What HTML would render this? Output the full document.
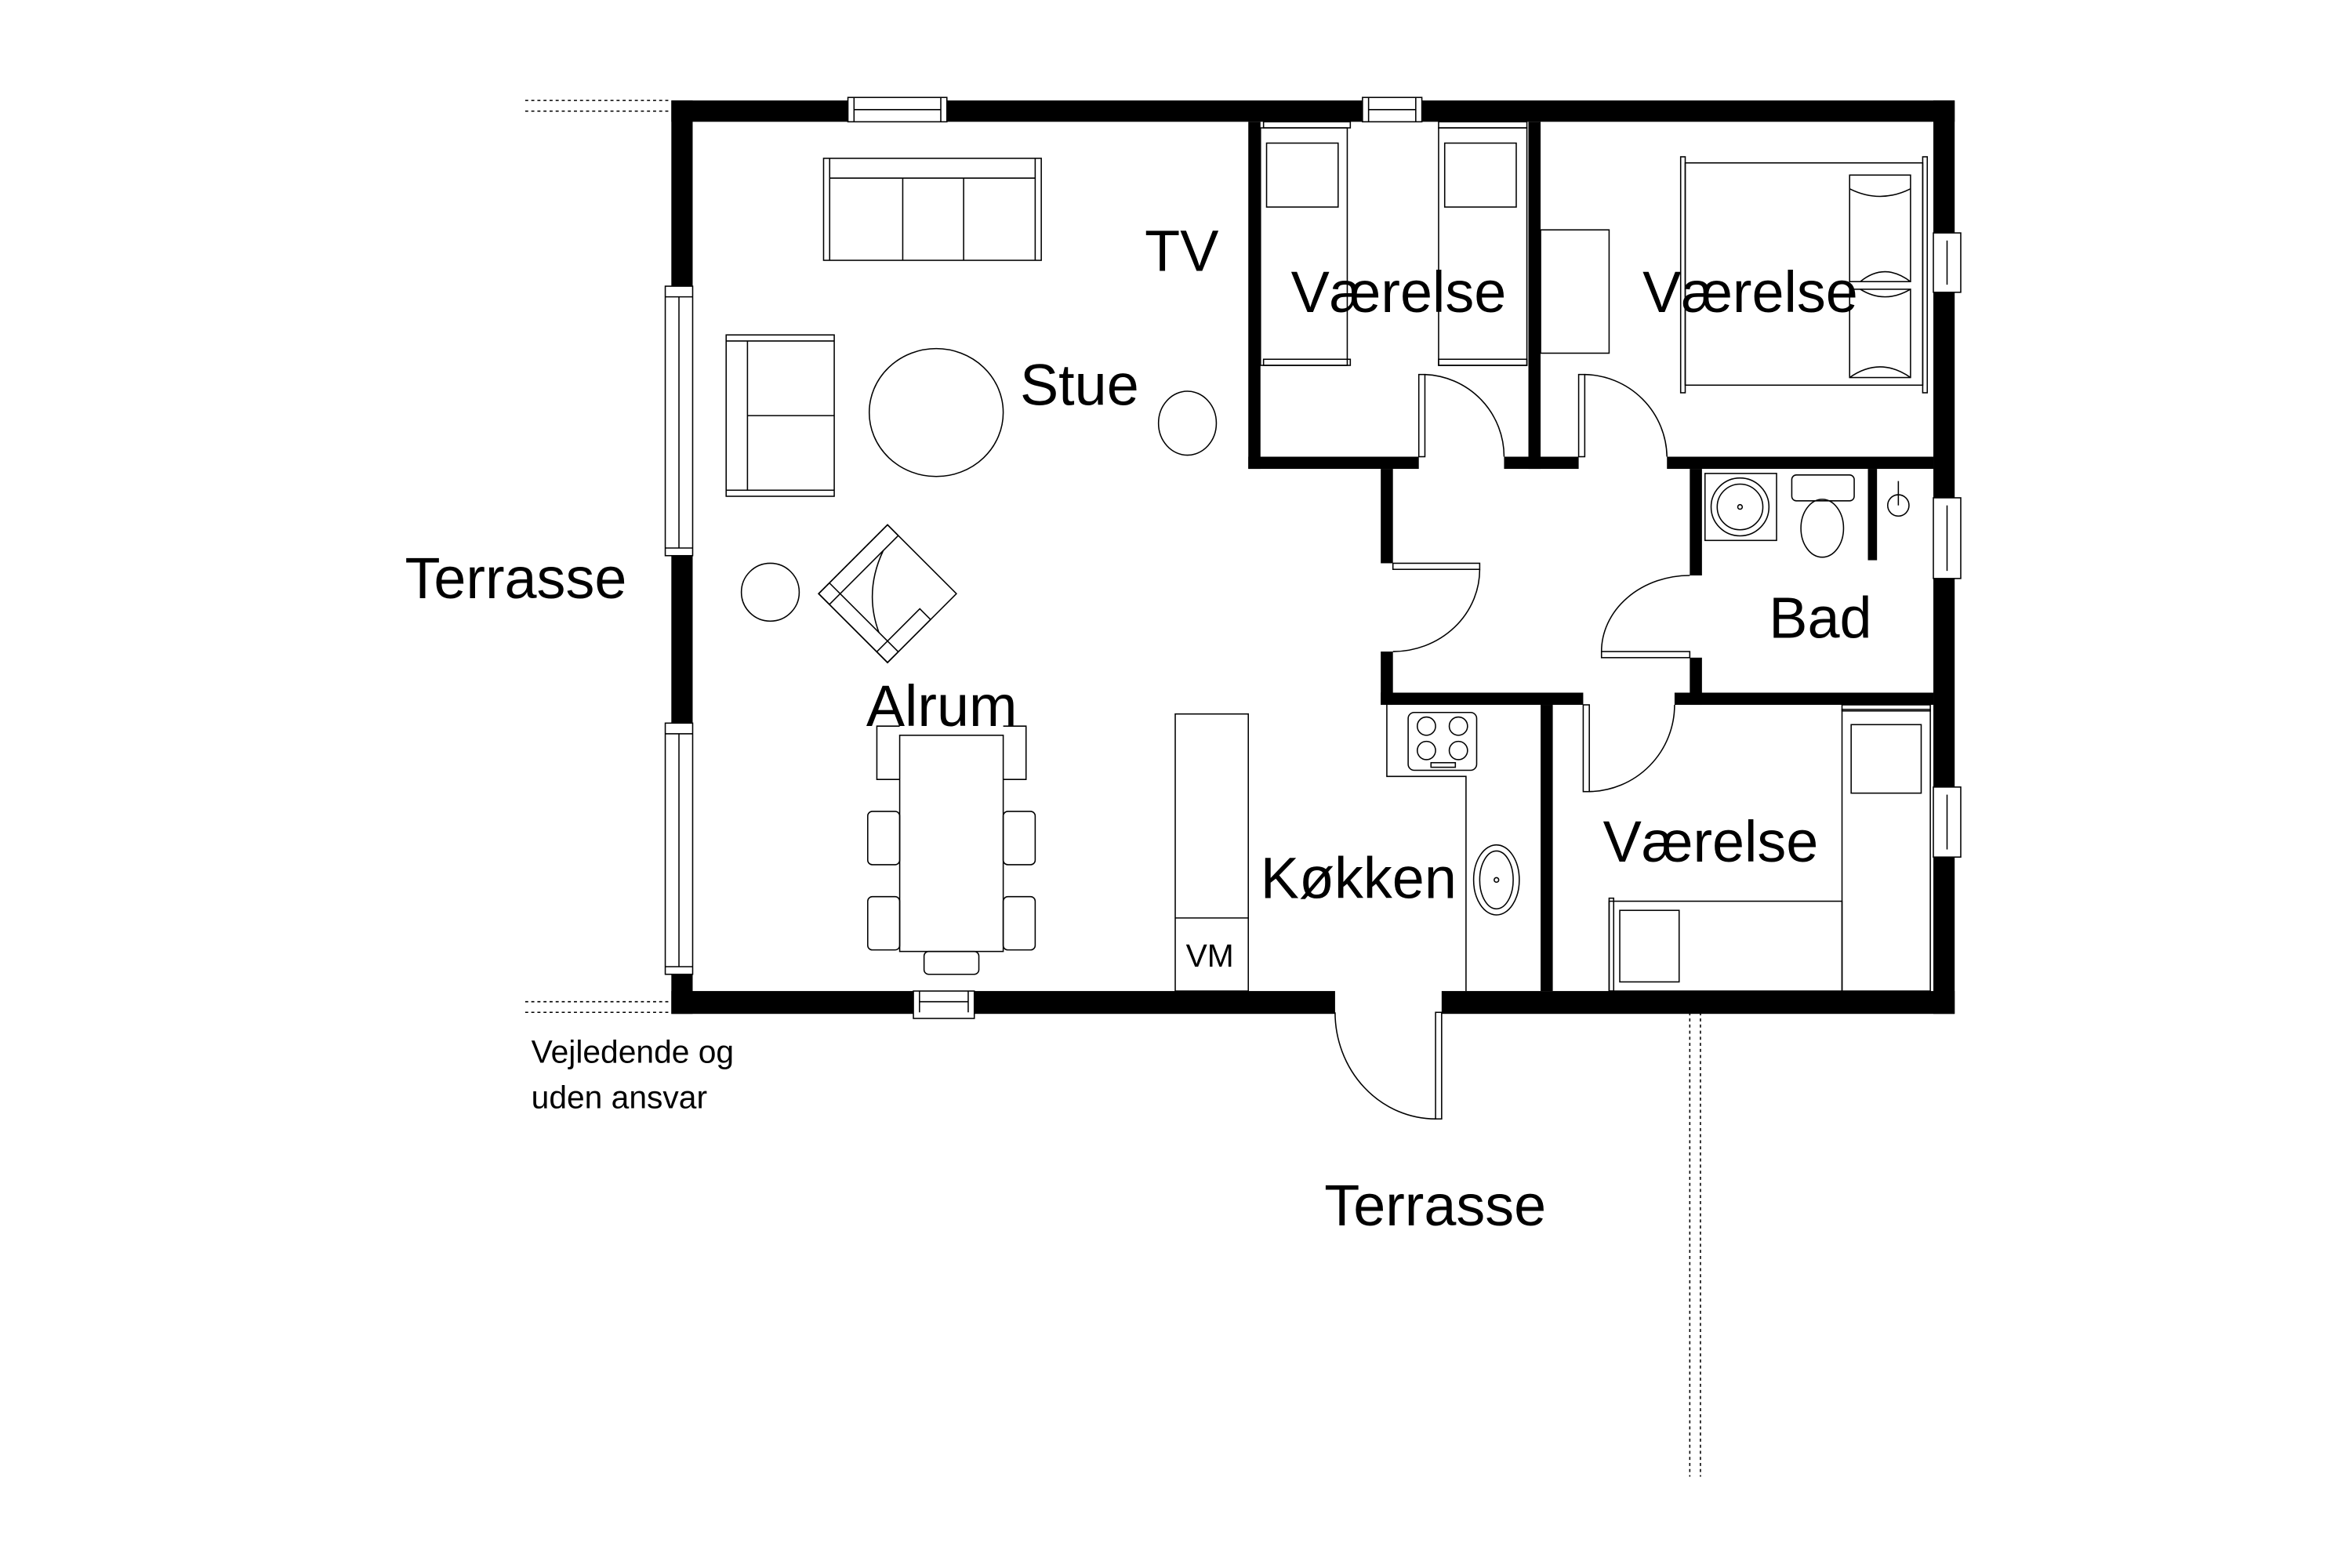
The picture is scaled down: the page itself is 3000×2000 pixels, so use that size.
<!DOCTYPE html>
<html><head><meta charset="utf-8"><style>
html,body{margin:0;padding:0;background:#fff}
svg{display:block}
text{font-family:"Liberation Sans",Arial,sans-serif;fill:#000}
</style></head><body>
<svg width="3000" height="2000" viewBox="0 0 1545 1030" xmlns="http://www.w3.org/2000/svg">
<rect width="1545" height="1030" fill="#fff"/>
<g fill="none" stroke="#000" stroke-width="0.8">
<line x1="345" y1="66" x2="441" y2="66" stroke-dasharray="2,2"/>
<line x1="345" y1="73" x2="441" y2="73" stroke-dasharray="2,2"/>
<line x1="345" y1="658" x2="441" y2="658" stroke-dasharray="2,2"/>
<line x1="345" y1="665" x2="441" y2="665" stroke-dasharray="2,2"/>
<line x1="1110" y1="665" x2="1110" y2="970" stroke-dasharray="2,2"/>
<line x1="1117" y1="665" x2="1117" y2="970" stroke-dasharray="2,2"/>
</g>
<g fill="#000">
<rect x="441" y="66" width="116" height="14"/>
<rect x="622" y="66" width="273" height="14"/>
<rect x="934" y="66" width="350" height="14"/>
<rect x="441" y="66" width="14" height="122"/>
<rect x="441" y="365" width="14" height="110"/>
<rect x="441" y="640" width="14" height="26"/>
<rect x="441" y="651" width="159" height="15"/>
<rect x="640" y="651" width="237" height="15"/>
<rect x="947" y="651" width="337" height="15"/>
<rect x="1270" y="66" width="14" height="87"/>
<rect x="1270" y="192" width="14" height="135"/>
<rect x="1270" y="380" width="14" height="137"/>
<rect x="1270" y="563" width="14" height="103"/>
<rect x="820" y="80" width="8" height="228"/>
<rect x="820" y="300" width="112" height="8"/>
<rect x="988" y="300" width="49" height="8"/>
<rect x="1004" y="80" width="8" height="228"/>
<rect x="1095" y="300" width="175" height="8"/>
<rect x="907" y="308" width="8" height="62"/>
<rect x="907" y="428" width="8" height="35"/>
<rect x="907" y="455" width="133" height="8"/>
<rect x="1100" y="455" width="170" height="8"/>
<rect x="1110" y="308" width="8" height="70"/>
<rect x="1110" y="432" width="8" height="31"/>
<rect x="1227" y="308" width="6" height="60"/>
<rect x="1012" y="463" width="8" height="188"/>
</g>
<g fill="#fff" stroke="#000" stroke-width="0.8">
<rect x="557" y="64" width="65" height="16"/><line x1="561" y1="72" x2="618" y2="72"/>
<line x1="561" y1="64" x2="561" y2="80"/><line x1="618" y1="64" x2="618" y2="80"/>
<rect x="895" y="64" width="39" height="16"/><line x1="899" y1="64" x2="899" y2="80"/><line x1="930" y1="64" x2="930" y2="80"/><line x1="899" y1="72" x2="930" y2="72"/>
<rect x="437" y="188" width="18" height="177"/><line x1="446" y1="195" x2="446" y2="360"/><line x1="437" y1="195" x2="455" y2="195"/><line x1="437" y1="360" x2="455" y2="360"/>
<rect x="437" y="475" width="18" height="165"/><line x1="446" y1="482" x2="446" y2="635"/><line x1="437" y1="482" x2="455" y2="482"/><line x1="437" y1="635" x2="455" y2="635"/>
<rect x="1270" y="153" width="18" height="39"/><line x1="1279" y1="158" x2="1279" y2="187"/>
<rect x="1270" y="327" width="18" height="53"/><line x1="1279" y1="332" x2="1279" y2="375"/>
<rect x="1270" y="517" width="18" height="46"/><line x1="1279" y1="522" x2="1279" y2="558"/>
<rect x="600" y="651" width="40" height="18"/><line x1="604" y1="651" x2="604" y2="665"/><line x1="636" y1="651" x2="636" y2="665"/><line x1="604" y1="658" x2="636" y2="658"/>
</g>
<g fill="none" stroke="#000" stroke-width="0.8">
<rect x="932" y="246" width="4" height="54" fill="#fff"/>
<path d="M936 246 A54 54 0 0 1 988 300"/>
<rect x="1037" y="246" width="4" height="54" fill="#fff"/>
<path d="M1041 246 A55 55 0 0 1 1095 300"/>
<rect x="915" y="370" width="57" height="4" fill="#fff"/>
<path d="M972 374 A57 54 0 0 1 915 428"/>
<rect x="1052" y="428" width="58" height="4" fill="#fff"/>
<path d="M1052 428 A58 50 0 0 1 1110 378"/>
<rect x="1040" y="463" width="4" height="57" fill="#fff"/>
<path d="M1044 520 A57 57 0 0 0 1100 463"/>
<rect x="943" y="665" width="4" height="70" fill="#fff"/>
<path d="M877 665 A66 70 0 0 0 943 735"/>
<rect x="541" y="104" width="143" height="67"/>
<line x1="545" y1="104" x2="545" y2="171"/><line x1="680" y1="104" x2="680" y2="171"/>
<line x1="545" y1="117" x2="680" y2="117"/>
<line x1="593" y1="117" x2="593" y2="171"/><line x1="633" y1="117" x2="633" y2="171"/>
<rect x="477" y="220" width="71" height="106"/>
<line x1="477" y1="224" x2="548" y2="224"/><line x1="477" y1="322" x2="548" y2="322"/>
<line x1="491" y1="224" x2="491" y2="322"/><line x1="491" y1="273" x2="548" y2="273"/>
<ellipse cx="615" cy="271" rx="44" ry="42"/>
<ellipse cx="780" cy="278" rx="19" ry="21"/>
<ellipse cx="506" cy="389" rx="19" ry="19"/>
<g transform="translate(583,390) rotate(45)">
<rect x="-32" y="-32" width="64" height="64"/>
<rect x="-32" y="-32" width="10" height="64"/>
<rect x="-32" y="22" width="64" height="10"/>
<rect x="22" y="-8" width="10" height="40"/>
<path d="M-22 -18 Q-12 10 14 22"/>
</g>
<rect x="591" y="483" width="68" height="142"/>
<path d="M591 477 H576 V512 H591"/><path d="M659 477 H674 V512 H659"/>
<rect x="570" y="533" width="21" height="35" rx="3"/><rect x="659" y="533" width="21" height="35" rx="3"/>
<rect x="570" y="589" width="21" height="35" rx="3"/><rect x="659" y="589" width="21" height="35" rx="3"/>
<rect x="607" y="625" width="36" height="15" rx="3"/>
<rect x="772" y="469" width="48" height="182"/><line x1="772" y1="603" x2="820" y2="603"/>
<path d="M911 463 V510 H963 V651"/>
<rect x="925" y="468" width="45" height="38" rx="4"/>
<circle cx="937" cy="477" r="6"/><circle cx="958" cy="477" r="6"/>
<circle cx="937" cy="493" r="6"/><circle cx="958" cy="493" r="6"/>
<rect x="940" y="501" width="16" height="3"/>
<ellipse cx="983" cy="578" rx="15" ry="23"/><ellipse cx="983" cy="578" rx="11" ry="19"/><circle cx="983" cy="578" r="1.5"/>
<rect x="828" y="84" width="57" height="156"/><rect x="830" y="80" width="57" height="4"/><rect x="830" y="236" width="57" height="4"/>
<rect x="832" y="94" width="47" height="42"/>
<rect x="945" y="84" width="58" height="156"/><rect x="945" y="80" width="58" height="4"/><rect x="945" y="236" width="58" height="4"/>
<rect x="949" y="94" width="47" height="42"/>
<rect x="1012" y="151" width="45" height="81"/>
<rect x="1107" y="107" width="156" height="146"/>
<rect x="1104" y="103" width="3" height="155"/><rect x="1263" y="103" width="3" height="155"/>
<rect x="1215" y="115" width="40" height="70"/><rect x="1215" y="190" width="40" height="58"/>
<path d="M1215 124 Q1235 134 1255 124"/><path d="M1222 185 Q1238 172 1255 185"/>
<path d="M1222 190 Q1238 200 1255 190"/><path d="M1215 248 Q1235 234 1255 248"/>
<rect x="1120" y="311" width="47" height="44"/><circle cx="1143" cy="333" r="19"/><circle cx="1143" cy="333" r="15"/><circle cx="1143" cy="333" r="1.5"/>
<rect x="1177" y="312" width="41" height="17" rx="3"/>
<ellipse cx="1197" cy="347" rx="14" ry="19"/>
<circle cx="1247" cy="332" r="7"/><line x1="1247" y1="316" x2="1247" y2="332"/>
<rect x="1057" y="592" width="153" height="59"/><rect x="1057" y="590" width="3" height="61"/>
<rect x="1064" y="598" width="39" height="47"/>
<rect x="1210" y="466" width="58" height="185"/><rect x="1210" y="463" width="58" height="4"/>
<rect x="1216" y="476" width="46" height="45"/>
</g>
<g font-size="38">
<text x="752" y="178">TV</text>
<text x="848" y="205">Værelse</text>
<text x="1079" y="205">Værelse</text>
<text x="670" y="266">Stue</text>
<text x="266" y="393">Terrasse</text>
<text x="1162" y="419">Bad</text>
<text x="569" y="477">Alrum</text>
<text x="1053" y="566">Værelse</text>
<text x="828" y="590">Køkken</text>
<text x="870" y="805">Terrasse</text>
</g>
<text x="779" y="635" font-size="21">VM</text>
<text x="349" y="698" font-size="21">Vejledende og</text>
<text x="349" y="728" font-size="21">uden ansvar</text>
</svg>
</body></html>
